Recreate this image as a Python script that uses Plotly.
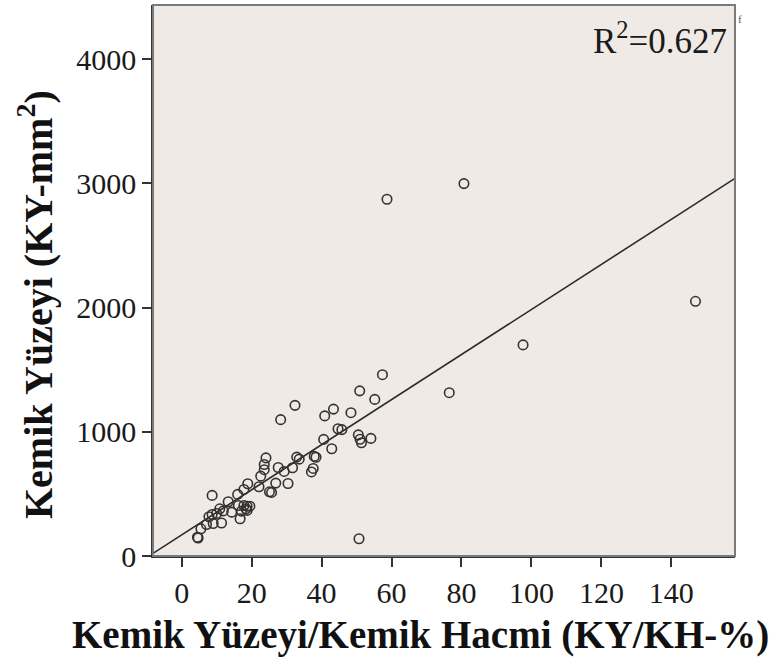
import numpy as np
import plotly.graph_objects as go

# Data
ky_kh = [80.7, 58.7, 146.9, 97.6, 76.5, 57.4, 50.9, 55.2, 32.4, 28.3,
         40.9, 43.4, 48.4, 44.7, 45.8, 40.6, 42.9, 50.5, 51.0, 51.4,
         54.1, 50.7, 24.1, 23.6, 23.6, 22.6, 27.6, 29.3, 31.7, 32.9,
         33.6, 37.9, 38.4, 37.6, 37.1, 26.9, 30.4, 25.1, 25.7, 22.1,
         18.9, 17.8, 16.0, 8.7, 13.3, 16.2, 17.8, 18.7, 19.5, 18.4,
         18.7, 17.1, 10.9, 11.9, 10.0, 8.7, 7.8, 14.3, 16.7, 11.4,
         9.0, 7.1, 5.5, 4.5, 4.7]
ky_mm2 = [2999, 2873, 2051, 1700, 1315, 1460, 1330, 1261, 1213, 1098,
          1128, 1183, 1154, 1025, 1018, 939, 864, 975, 940, 912,
          947, 139, 790, 737, 695, 643, 713, 681, 711, 796,
          780, 802, 795, 705, 677, 587, 584, 517, 512, 558,
          582, 536, 496, 488, 437, 407, 407, 401, 401, 380,
          367, 361, 380, 363, 342, 334, 316, 353, 300, 266,
          262, 254, 219, 151, 145]

fit_intercept = 170.0
fit_slope = 18.15
r2_text = "R<sup>2</sup>=0.627"

x_range = [-8.2, 158.2]
y_range = [0, 4437]
x_ticks = [0, 20, 40, 60, 80, 100, 120, 140]
y_ticks = [0, 1000, 2000, 3000, 4000]

x_title = "<b>Kemik Yüzeyi/Kemik Hacmi (KY/KH-%)</b>"
y_title = "<b>Kemik Yüzeyi (KY-mm<sup>2</sup>)</b>"

serif = "Liberation Serif"
W, H = 771, 663
L, R, T, B = 153, 36, 5, 107
pw, ph = W - L - R, H - T - B

fig = go.Figure()

line_x = np.array(x_range)
line_y = fit_intercept + fit_slope * line_x
fig.add_trace(go.Scatter(x=line_x, y=line_y, mode="lines",
                         line=dict(color="#2b2b2b", width=1.6),
                         hoverinfo="skip", showlegend=False))

fig.add_trace(go.Scatter(x=ky_kh, y=ky_mm2, mode="markers",
                         marker=dict(symbol="circle-open", size=9.5,
                                     color="#333333",
                                     line=dict(width=1.6, color="#333333")),
                         showlegend=False))

fig.add_annotation(x=1, y=1, xref="paper", yref="paper",
                   xanchor="right", yanchor="top", xshift=-6, yshift=-9,
                   text=r2_text, showarrow=False,
                   font=dict(family=serif, size=35, color="#1a1a1a"))

# small mark outside the top-right corner, as in the reference
fig.add_annotation(x=1, y=1, xref="paper", yref="paper",
                   xanchor="left", yanchor="top", xshift=1, yshift=-6,
                   text="f", showarrow=False,
                   font=dict(family=serif, size=11, color="#555555"))

# axis titles positioned as in the reference
fig.add_annotation(x=(420 - L) / pw, y=-(635 - (H - B)) / ph, xref="paper", yref="paper",
                   xanchor="center", yanchor="middle", text=x_title, showarrow=False,
                   font=dict(family=serif, size=39, color="#111111"))
fig.add_annotation(x=-(L - 35) / pw, y=1 - (305 - T) / ph, xref="paper", yref="paper",
                   xanchor="center", yanchor="middle", text=y_title, showarrow=False,
                   textangle=-90,
                   font=dict(family=serif, size=40, color="#111111"))

# frame (top/right in gray)
fig.add_shape(type="rect", xref="paper", yref="paper", x0=0, y0=0, x1=1, y1=1,
              line=dict(color="#7a7a7a", width=2), layer="above")

fig.update_xaxes(range=x_range, tickvals=x_ticks, ticks="outside", ticklen=9,
                 tickwidth=1.5, tickcolor="#333333", showgrid=False,
                 zeroline=False, showline=True, linecolor="#333333", linewidth=1.5,
                 tickfont=dict(family=serif, size=30, color="#1a1a1a"))
fig.update_yaxes(range=y_range, tickvals=y_ticks, ticks="outside", ticklen=9,
                 tickwidth=1.5, tickcolor="#333333", showgrid=False,
                 zeroline=False, showline=True, linecolor="#333333", linewidth=1.5,
                 tickfont=dict(family=serif, size=30, color="#1a1a1a"))

fig.update_layout(width=W, height=H,
                  margin=dict(l=L, r=R, t=T, b=B),
                  paper_bgcolor="white", plot_bgcolor="#efeae6",
                  showlegend=False)

fig.write_html("out.html")
